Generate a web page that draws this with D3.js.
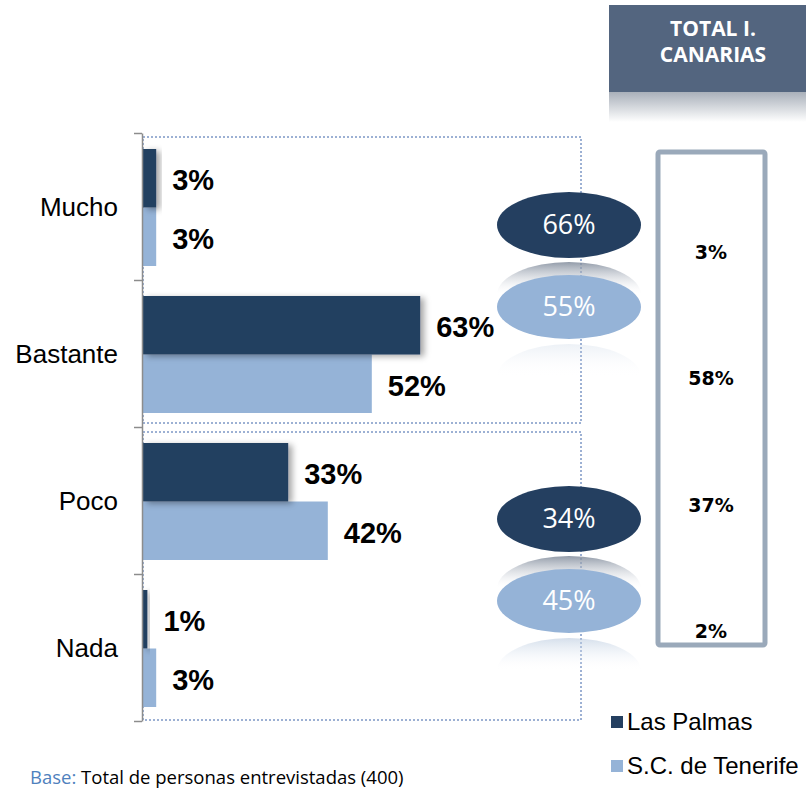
<!DOCTYPE html>
<html>
<head>
<meta charset="utf-8">
<script src="https://cdn.jsdelivr.net/npm/d3@7"></script>
<style>
  body { margin: 0; background: #fff; }
  svg { display: block; }
</style>
</head>
<body>
<div id="chart"></div>
<script>
// chart data
const categories = ["Mucho", "Bastante", "Poco", "Nada"];
const series = ["Las Palmas", "S.C. de Tenerife"];
const lasPalmas = [3, 63, 33, 1];
const tenerife = [3, 52, 42, 3];
const totalCanarias = [3, 58, 37, 2];
// grouped totals (Mucho+Bastante, Poco+Nada)
const groupDark = [66, 34];
const groupLight = [55, 45];

const width = 806;
const height = 791;
const colors = {dark: "#243f60", light: "#95b3d7"};

const svg = d3.select("#chart")
  .append("svg")
  .attr("width", width)
  .attr("height", height);

const defs = svg.append("defs");

// shadow for bars
const shadow = defs.append("filter").attr("id", "shadow")
  .attr("x", "-20%").attr("y", "-20%").attr("width", "160%").attr("height", "140%");
shadow.append("feDropShadow")
  .attr("dx", 4).attr("dy", 2).attr("stdDeviation", 3)
  .attr("flood-color", "#000").attr("flood-opacity", 0.35);

// reflection gradient under ellipses
const refl = defs.append("linearGradient").attr("id", "refl")
  .attr("x1", 0).attr("y1", 0).attr("x2", 0).attr("y2", 1);
refl.append("stop").attr("offset", "0%").attr("stop-color", "#7f8a9a").attr("stop-opacity", 0.85);
refl.append("stop").attr("offset", "30%").attr("stop-color", "#c9ced6").attr("stop-opacity", 0.35);
refl.append("stop").attr("offset", "50%").attr("stop-color", "#fff").attr("stop-opacity", 0);

const reflLight = defs.append("linearGradient").attr("id", "reflLight")
  .attr("x1", 0).attr("y1", 0).attr("x2", 0).attr("y2", 1);
reflLight.append("stop").attr("offset", "0%").attr("stop-color", "#b4c6dc").attr("stop-opacity", 0.7);
reflLight.append("stop").attr("offset", "30%").attr("stop-color", "#e3eaf3").attr("stop-opacity", 0.3);
reflLight.append("stop").attr("offset", "50%").attr("stop-color", "#fff").attr("stop-opacity", 0);

// header reflection
const hdr = defs.append("linearGradient").attr("id", "hdr")
  .attr("x1", 0).attr("y1", 0).attr("x2", 0).attr("y2", 1);
hdr.append("stop").attr("offset", "0%").attr("stop-color", "#a9b0ba");
hdr.append("stop").attr("offset", "100%").attr("stop-color", "#fff");

// scales
const y = d3.scaleBand()
  .domain(categories)
  .range([133, 721]);

const y1 = d3.scaleBand()
  .domain(series)
  .range([16, y.bandwidth() - 14]);

const x = d3.scaleLinear()
  .domain([0, 100])
  .range([143, 583]);

const yAxisScale = d3.scaleLinear()
  .domain([0, categories.length])
  .range([133, 721]);

// dashed group boxes
const groups = [[categories[0], categories[1]], [categories[2], categories[3]]];
groups.forEach((g, i) => {
  const top = y(g[0]) + (i === 0 ? 4 : 5);
  const bottom = y(g[1]) + y.bandwidth() - (i === 0 ? 4 : 1);
  svg.append("rect")
    .attr("x", 143)
    .attr("y", top)
    .attr("width", 581 - 143)
    .attr("height", bottom - top)
    .attr("fill", "none")
    .attr("stroke", "#3a62a8")
    .attr("stroke-width", 1)
    .attr("stroke-dasharray", "2,2");
});

// bars
const rows = categories.map((c, i) => ({cat: c, lp: lasPalmas[i], tf: tenerife[i]}));

const barG = svg.append("g");
rows.forEach(d => {
  barG.append("rect")
    .attr("x", x(0))
    .attr("y", y(d.cat) + y1(series[1]))
    .attr("width", x(d.tf) - x(0))
    .attr("height", y1.bandwidth())
    .attr("fill", colors.light);
  barG.append("rect")
    .attr("x", x(0))
    .attr("y", y(d.cat) + y1(series[0]))
    .attr("width", x(d.lp) - x(0))
    .attr("height", y1.bandwidth())
    .attr("fill", colors.dark)
    .attr("filter", "url(#shadow)");
});

// value labels
rows.forEach(d => {
  [[d.lp, series[0]], [d.tf, series[1]]].forEach(([v, s]) => {
    svg.append("text")
      .attr("x", x(v) + 16)
      .attr("y", y(d.cat) + y1(s) + y1.bandwidth() / 2 + 2)
      .attr("dy", "0.35em")
      .attr("font-family", "Liberation Sans, Arial, sans-serif")
      .attr("font-weight", "bold")
      .attr("font-size", "29px")
      .attr("fill", "#000")
      .text(v + "%");
  });
});

// axis with ticks at band boundaries
svg.append("g")
  .attr("transform", "translate(142,0)")
  .call(d3.axisLeft(yAxisScale).ticks(categories.length).tickFormat("").tickSize(8).tickSizeOuter(0))
  .call(g => g.selectAll("line, path").attr("stroke", "#8c8c8c").attr("stroke-width", 1.5));

// category labels
svg.selectAll(".cat")
  .data(categories)
  .enter()
  .append("text")
  .attr("class", "cat")
  .attr("x", 118)
  .attr("y", d => y(d) + y.bandwidth() / 2)
  .attr("dy", "0.35em")
  .attr("text-anchor", "end")
  .attr("font-family", "Liberation Sans, Arial, sans-serif")
  .attr("font-size", "26px")
  .attr("fill", "#000")
  .text(d => d);

// grouped ellipses
const ex = 569, rx = 72, ry = 33;
groups.forEach((g, i) => {
  const top = y(g[0]);
  const cyDark = top + 92;
  const cyLight = top + 174;
  const eg = svg.append("g");
  eg.append("ellipse")
    .attr("cx", ex).attr("cy", cyDark + 2 * ry + 4)
    .attr("rx", rx).attr("ry", ry)
    .attr("fill", "url(#refl)");
  eg.append("ellipse")
    .attr("cx", ex).attr("cy", cyLight + 2 * ry + 4)
    .attr("rx", rx).attr("ry", ry)
    .attr("fill", "url(#reflLight)")
    .attr("opacity", i === 0 ? 0.35 : 0.8);
  eg.append("ellipse")
    .attr("cx", ex).attr("cy", cyDark)
    .attr("rx", rx).attr("ry", ry)
    .attr("fill", colors.dark);
  eg.append("ellipse")
    .attr("cx", ex).attr("cy", cyLight)
    .attr("rx", rx).attr("ry", ry - 1)
    .attr("fill", colors.light);
  [[groupDark[i], cyDark], [groupLight[i], cyLight]].forEach(([v, cy]) => {
    eg.append("text")
      .attr("x", ex).attr("y", cy)
      .attr("dy", "0.35em")
      .attr("text-anchor", "middle")
      .attr("font-family", "Open Sans, Lato, sans-serif")
      .attr("font-size", "27px")
      .attr("fill", "#fff")
      .text(v + "%");
  });
});

// header box
svg.append("rect")
  .attr("x", 609).attr("y", 92).attr("width", 197).attr("height", 30)
  .attr("fill", "url(#hdr)");
svg.append("rect")
  .attr("x", 609).attr("y", 5).attr("width", 197).attr("height", 87)
  .attr("fill", "#53657f");
["TOTAL I.", "CANARIAS"].forEach((t, i) => {
  svg.append("text")
    .attr("x", 713).attr("y", 36 + i * 26)
    .attr("text-anchor", "middle")
    .attr("font-family", "Open Sans, Lato, sans-serif")
    .attr("font-weight", "bold")
    .attr("font-size", "21px")
    .attr("fill", "#fff")
    .text(t);
});

// total box
svg.append("rect")
  .attr("x", 658).attr("y", 152).attr("width", 107).attr("height", 493)
  .attr("fill", "#fff")
  .attr("stroke", "#9aa9ba")
  .attr("stroke-width", 5)
  .attr("rx", 2);

const yTot = d3.scaleBand().domain(categories).range([189, 695]);
svg.selectAll(".tot")
  .data(categories)
  .enter()
  .append("text")
  .attr("class", "tot")
  .attr("x", 711)
  .attr("y", d => yTot(d) + yTot.bandwidth() / 2)
  .attr("dy", "0.35em")
  .attr("text-anchor", "middle")
  .attr("font-family", "DejaVu Sans, Verdana, sans-serif")
  .attr("font-weight", "bold")
  .attr("font-size", "19px")
  .attr("fill", "#000")
  .text((d, i) => totalCanarias[i] + "%");

// legend
const legend = svg.append("g");
series.forEach((s, i) => {
  legend.append("rect")
    .attr("x", 611).attr("y", 716 + i * 44)
    .attr("width", 12).attr("height", 12)
    .attr("fill", i === 0 ? colors.dark : colors.light);
  legend.append("text")
    .attr("x", 627).attr("y", 722 + i * 44)
    .attr("dy", "0.35em")
    .attr("font-family", "Liberation Sans, Arial, sans-serif")
    .attr("font-size", "24px")
    .attr("fill", "#000")
    .text(s);
});

// base note
const base = svg.append("text")
  .attr("x", 30).attr("y", 784)
  .attr("font-family", "Open Sans, Lato, sans-serif")
  .attr("font-size", "18.5px");
base.append("tspan").attr("fill", "#4f81bd").text("Base: ");
base.append("tspan").attr("fill", "#000").text("Total de personas entrevistadas (400)");
</script>
</body>
</html>
